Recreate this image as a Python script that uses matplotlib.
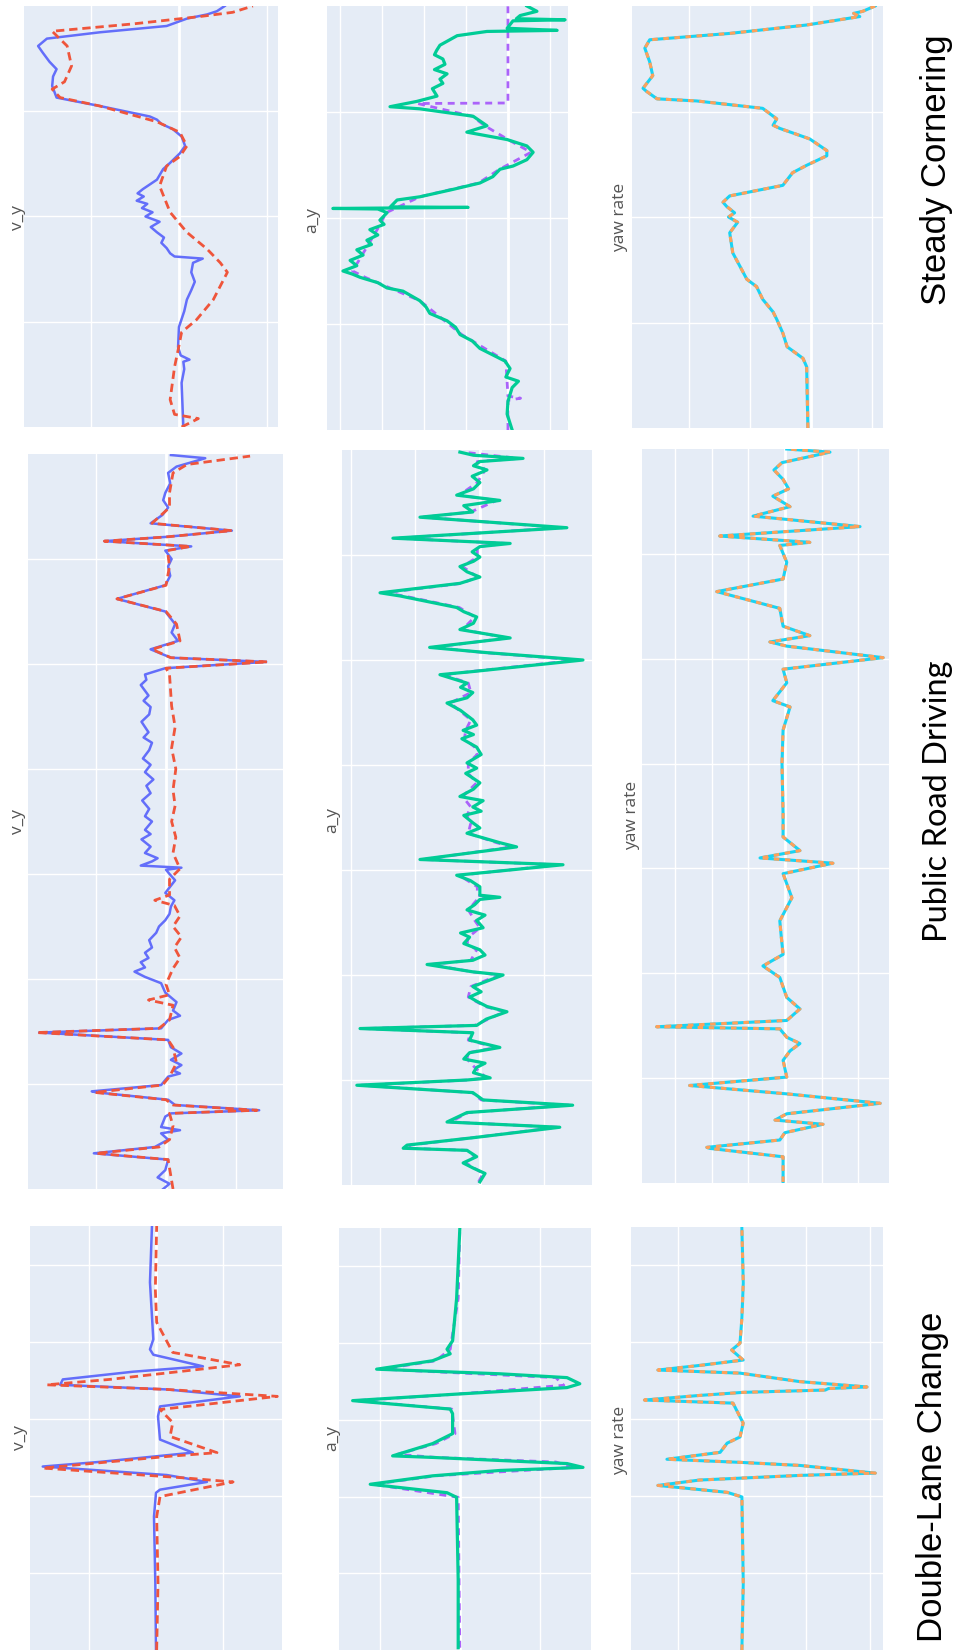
import numpy as np
import matplotlib.pyplot as plt

# ---- data: (time, value) pairs ----
# Steady Cornering
sc_vy_meas = [(0.0, -0.05), (0.42, -0.03), (0.55, -0.06), (0.62, -0.05), (0.64, -0.12), (0.68, -0.02), (0.76, 0.01),
              (0.95, 0.0), (1.1, -0.06), (1.21, -0.09), (1.3, -0.14), (1.38, -0.18), (1.47, -0.14), (1.56, -0.16),
              (1.6, -0.27), (1.62, 0.05), (1.65, 0.1), (1.7, 0.14), (1.75, 0.2), (1.8, 0.17), (1.85, 0.25),
              (1.9, 0.32), (1.95, 0.22), (2.0, 0.38), (2.04, 0.3), (2.08, 0.42), (2.12, 0.36), (2.15, 0.48),
              (2.19, 0.4), (2.22, 0.47), (2.26, 0.41), (2.35, 0.25), (2.45, 0.18), (2.51, 0.1), (2.6, -0.01),
              (2.67, -0.07), (2.76, -0.03), (2.83, 0.07), (2.88, 0.2), (2.92, 0.25), (2.95, 0.33), (3.05, 0.9),
              (3.11, 1.27), (3.13, 1.39), (3.24, 1.44), (3.33, 1.43), (3.4, 1.39), (3.47, 1.47), (3.56, 1.55),
              (3.62, 1.6), (3.69, 1.5), (3.75, 0.9), (3.81, 0.14), (3.88, -0.09), (3.92, -0.32), (3.95, -0.43),
              (4.0, -0.52)]
sc_vy_pred = [(0.0, -0.03), (0.08, -0.22), (0.12, 0.05), (0.26, 0.1), (0.57, 0.05), (0.73, 0.01), (0.9, -0.03),
              (1.02, -0.2), (1.21, -0.39), (1.47, -0.55), (1.56, -0.47), (1.69, -0.32), (1.85, -0.09), (2.04, 0.1),
              (2.29, 0.22), (2.48, 0.14), (2.57, -0.01), (2.67, -0.09), (2.8, -0.01), (2.9, 0.25), (3.05, 0.9),
              (3.13, 1.35), (3.21, 1.44), (3.28, 1.3), (3.43, 1.22), (3.62, 1.27), (3.76, 1.44), (3.83, 0.52),
              (3.9, -0.24), (3.94, -0.61), (4.0, -0.84)]
sc_ay_meas = [(0.0, -0.1), (0.15, 0.02), (0.27, 0.0), (0.4, -0.1), (0.46, -0.25), (0.5, 0.05), (0.58, -0.05),
              (0.65, 0.07), (0.77, 0.67), (0.84, 0.85), (0.9, 1.14), (0.97, 1.25), (1.03, 1.45), (1.1, 1.86),
              (1.16, 1.95), (1.22, 2.1), (1.31, 2.5), (1.34, 2.88), (1.39, 3.1), (1.44, 3.52), (1.47, 3.7),
              (1.5, 3.93), (1.55, 3.6), (1.6, 3.76), (1.65, 3.45), (1.7, 3.6), (1.75, 3.25), (1.79, 3.36),
              (1.84, 3.1), (1.89, 3.29), (1.94, 2.95), (1.98, 3.05), (2.05, 2.88), (2.085, 3.1), (2.09, 4.17),
              (2.1, 0.95), (2.105, 2.8), (2.17, 2.64), (2.2, 2.1), (2.27, 1.31), (2.33, 0.67), (2.39, 0.36),
              (2.46, 0.19), (2.49, -0.12), (2.55, -0.45), (2.62, -0.6), (2.68, -0.45), (2.74, 0.02), (2.81, 0.98),
              (2.87, 0.5), (2.96, 0.83), (3.03, 2.1), (3.05, 2.81), (3.1, 2.17), (3.15, 1.69), (3.22, 1.8),
              (3.27, 1.55), (3.31, 1.62), (3.36, 1.45), (3.4, 1.75), (3.45, 1.5), (3.5, 1.55), (3.54, 1.75),
              (3.58, 1.7), (3.63, 1.62), (3.72, 1.21), (3.76, 0.5), (3.77, -1.17), (3.79, 0.02), (3.86, -0.12),
              (3.87, -1.36), (3.88, -0.2), (3.91, -0.29), (3.95, -0.69), (4.0, -0.45)]
sc_ay_pred = [(0.0, 0.0), (0.28, 0.0), (0.3, -0.3), (0.32, 0.0), (0.65, 0.05), (0.9, 1.1), (1.22, 2.1),
              (1.44, 3.4), (1.5, 3.7), (1.7, 3.4), (1.9, 3.1), (2.05, 2.9), (2.2, 2.1), (2.33, 0.7), (2.46, 0.2),
              (2.62, -0.55), (2.74, 0.0), (2.87, 0.55), (2.96, 0.85), (3.08, 2.15), (3.085, 0.0), (4.02, 0.0)]
sc_yaw = [(0.0, 0.05), (0.58, 0.07), (0.66, 0.13), (0.77, 0.39), (0.9, 0.46), (1.03, 0.56), (1.1, 0.62),
          (1.22, 0.79), (1.34, 0.89), (1.41, 1.05), (1.53, 1.16), (1.66, 1.28), (1.85, 1.33), (1.95, 1.2),
          (2.0, 1.35), (2.04, 1.25), (2.1, 1.38), (2.14, 1.44), (2.2, 1.33), (2.3, 0.46), (2.42, 0.3),
          (2.49, 0.07), (2.58, -0.26), (2.63, -0.26), (2.74, 0.02), (2.84, 0.51), (2.87, 0.62), (2.93, 0.56),
          (3.03, 0.79), (3.1, 1.87), (3.12, 2.52), (3.19, 2.69), (3.22, 2.75), (3.34, 2.59), (3.47, 2.64),
          (3.6, 2.72), (3.68, 2.64), (3.74, 1.33), (3.82, 0.07), (3.9, -0.8), (3.93, -0.7), (3.95, -0.85),
          (4.0, -1.05)]

# Public Road Driving
prd_vy_meas = [(0.0, 0.04), (0.05, -0.05), (0.11, 0.12), (0.18, 0.01), (0.28, -0.03), (0.34, 1.03), (0.4, 0.16),
               (0.47, -0.03), (0.53, 0.07), (0.56, -0.2), (0.59, 0.07), (0.69, 0.01), (0.72, -0.07), (0.75, -1.33),
               (0.8, -0.13), (0.85, -0.03), (0.92, 0.99), (0.93, 1.06), (0.99, 0.07), (1.07, -0.03), (1.1, -0.2),
               (1.13, -0.1), (1.18, -0.22), (1.23, -0.07), (1.29, -0.22), (1.35, -0.07), (1.42, -0.03),
               (1.49, 1.81), (1.53, 0.07), (1.61, -0.03), (1.65, -0.2), (1.7, -0.1), (1.78, -0.15), (1.87, 0.01),
               (1.96, 0.07), (2.02, 0.3), (2.07, 0.45), (2.11, 0.3), (2.16, 0.36), (2.2, 0.25), (2.25, 0.3),
               (2.3, 0.2), (2.37, 0.24), (2.44, 0.14), (2.5, 0.1), (2.56, 0.01), (2.62, -0.05), (2.69, -0.07),
               (2.75, -0.12), (2.82, 0.01), (2.88, -0.06), (2.94, -0.13), (3.0, -0.05), (3.04, 0.0), (3.06, -0.22),
               (3.08, 0.36), (3.12, 0.2), (3.15, 0.12), (3.2, 0.3), (3.26, 0.22), (3.33, 0.35), (3.38, 0.22),
               (3.42, 0.3), (3.5, 0.2), (3.55, 0.3), (3.62, 0.24), (3.7, 0.34), (3.77, 0.22), (3.84, 0.28),
               (3.9, 0.18), (3.97, 0.3), (4.04, 0.22), (4.1, 0.33), (4.18, 0.24), (4.25, 0.2), (4.3, 0.32),
               (4.35, 0.25), (4.45, 0.35), (4.52, 0.24), (4.59, 0.22), (4.65, 0.32), (4.7, 0.25), (4.8, 0.36),
               (4.85, 0.28), (4.9, 0.3), (4.96, 0.01), (5.02, -1.43), (5.06, -0.07), (5.14, 0.22), (5.22, -0.17),
               (5.3, -0.08), (5.38, -0.13), (5.5, 0.01), (5.62, 0.7), (5.75, 0.01), (5.84, -0.06), (5.93, -0.03),
               (6.0, -0.08), (6.08, 0.01), (6.12, -0.36), (6.17, 0.88), (6.21, 0.01), (6.27, -0.94), (6.34, 0.22),
               (6.42, 0.05), (6.49, -0.03), (6.56, 0.04), (6.63, 0.01), (6.72, -0.06), (6.82, -0.03),
               (6.88, -0.15), (6.94, -0.46), (6.96, -0.56), (6.99, -0.07)]
prd_vy_pred = [(0.0, -0.1), (0.2, -0.05), (0.28, -0.03), (0.34, 1.0), (0.4, 0.1), (0.47, -0.05), (0.6, -0.1),
               (0.72, -0.05), (0.75, -1.3), (0.8, -0.1), (0.85, 0.0), (0.92, 1.02), (0.99, 0.05), (1.07, -0.05),
               (1.2, -0.15), (1.35, -0.1), (1.42, -0.03), (1.49, 1.85), (1.53, 0.1), (1.61, -0.05), (1.75, -0.1),
               (1.8, 0.25), (1.85, -0.05), (1.95, 0.0), (2.1, -0.1), (2.2, -0.2), (2.3, -0.12), (2.4, -0.22),
               (2.5, -0.1), (2.6, -0.2), (2.7, -0.12), (2.75, 0.16), (2.8, -0.05), (2.95, -0.05), (3.05, -0.2),
               (3.2, -0.1), (3.35, -0.14), (3.5, -0.08), (3.65, -0.13), (3.8, -0.1), (4.0, -0.14), (4.2, -0.08),
               (4.4, -0.13), (4.6, -0.08), (4.9, -0.05), (4.96, 0.0), (5.02, -1.45), (5.06, -0.07), (5.14, 0.2),
               (5.22, -0.2), (5.38, -0.15), (5.5, 0.0), (5.62, 0.7), (5.75, 0.0), (5.93, -0.05), (6.08, -0.02),
               (6.12, -0.35), (6.17, 0.88), (6.21, 0.0), (6.27, -0.94), (6.34, 0.2), (6.49, -0.05), (6.63, -0.05),
               (6.82, -0.1), (6.9, -0.3), (6.98, -1.2)]
prd_ay_meas = [(0.03, 0.0), (0.11, -0.08), (0.16, 0.1), (0.21, 0.26), (0.27, 0.05), (0.33, 0.2), (0.35, 1.19),
               (0.38, 1.13), (0.45, 0.11), (0.55, -1.24), (0.6, 0.51), (0.69, 0.2), (0.76, -1.44), (0.81, -0.05),
               (0.88, 0.11), (0.95, 1.91), (1.0, 0.2), (1.02, -0.16), (1.07, 0.1), (1.12, 0.05), (1.16, -0.08),
               (1.2, 0.25), (1.26, 0.16), (1.31, -0.31), (1.38, 0.16), (1.45, 0.11), (1.49, 1.86), (1.52, 0.05),
               (1.58, -0.1), (1.65, -0.42), (1.7, -0.11), (1.75, 0.05), (1.79, 0.16), (1.84, -0.02), (1.89, 0.11),
               (2.0, -0.36), (2.03, 0.11), (2.1, 0.82), (2.14, 0.11), (2.19, -0.08), (2.24, 0.0), (2.3, 0.25),
               (2.36, 0.16), (2.4, 0.3), (2.45, -0.05), (2.52, 0.05), (2.57, -0.08), (2.62, 0.2), (2.67, 0.08),
               (2.72, 0.0), (2.74, -0.31), (2.76, 0.0), (2.84, 0.0), (2.9, 0.15), (2.95, 0.36), (3.05, -1.29),
               (3.1, 0.93), (3.22, -0.57), (3.26, -0.31), (3.35, 0.2), (3.4, 0.0), (3.45, 0.11), (3.52, 0.25),
               (3.56, -0.02), (3.6, 0.11), (3.66, -0.05), (3.7, 0.31), (3.77, 0.1), (3.83, 0.0), (3.88, 0.12),
               (3.92, 0.22), (3.97, 0.05), (4.02, 0.2), (4.1, -0.02), (4.17, 0.05), (4.25, 0.28), (4.29, 0.1),
               (4.33, 0.26), (4.38, 0.05), (4.43, 0.11), (4.52, 0.3), (4.59, 0.51), (4.64, 0.2), (4.69, 0.11),
               (4.74, 0.3), (4.78, 0.2), (4.86, 0.62), (4.89, 0.11), (5.0, -1.6), (5.07, -0.11), (5.12, 0.78),
               (5.21, -0.47), (5.29, 0.31), (5.35, 0.1), (5.41, 0.05), (5.46, 0.25), (5.5, 0.36), (5.61, 1.24),
               (5.64, 1.55), (5.73, 0.31), (5.79, 0.0), (5.84, 0.2), (5.89, 0.31), (5.94, 0.1), (5.98, 0.0),
               (6.03, 0.12), (6.08, 0.0), (6.11, -0.47), (6.16, 1.35), (6.26, -1.35), (6.36, 0.93), (6.41, 0.11),
               (6.47, 0.25), (6.52, -0.31), (6.57, 0.36), (6.63, 0.1), (6.69, 0.0), (6.75, 0.12), (6.81, -0.11),
               (6.85, 0.1), (6.89, 0.0), (6.92, -0.67), (6.95, 0.1), (6.98, 0.31)]
prd_ay_pred = [(0.03, 0.02), (0.11, -0.05), (0.21, 0.22), (0.27, 0.08), (0.33, 0.18), (0.35, 1.12), (0.38, 1.08),
               (0.45, 0.12), (0.55, -1.2), (0.6, 0.46), (0.69, 0.18), (0.76, -1.38), (0.81, -0.02), (0.88, 0.12),
               (0.95, 1.84), (1.0, 0.18), (1.02, -0.1), (1.12, 0.08), (1.2, 0.2), (1.26, 0.18), (1.31, -0.25),
               (1.38, 0.18), (1.45, 0.14), (1.49, 1.8), (1.52, 0.08), (1.65, -0.38), (1.7, -0.08), (1.79, 0.18),
               (1.89, 0.14), (2.0, -0.3), (2.03, 0.12), (2.1, 0.76), (2.14, 0.14), (2.24, 0.05), (2.3, 0.2),
               (2.36, 0.18), (2.45, 0.0), (2.52, 0.08), (2.62, 0.18), (2.72, 0.04), (2.74, -0.25), (2.76, 0.04),
               (2.84, 0.04), (2.95, 0.32), (3.05, -1.22), (3.1, 0.88), (3.22, -0.5), (3.26, -0.26), (3.35, 0.18),
               (3.45, 0.14), (3.52, 0.2), (3.6, 0.14), (3.7, 0.27), (3.83, 0.05), (3.92, 0.18), (4.02, 0.18),
               (4.1, 0.04), (4.17, 0.08), (4.25, 0.24), (4.33, 0.22), (4.43, 0.14), (4.59, 0.46), (4.69, 0.14),
               (4.78, 0.18), (4.86, 0.56), (4.89, 0.14), (5.0, -1.52), (5.07, -0.08), (5.12, 0.72), (5.21, -0.42),
               (5.29, 0.27), (5.41, 0.08), (5.5, 0.32), (5.61, 1.18), (5.64, 1.48), (5.73, 0.28), (5.79, 0.04),
               (5.89, 0.27), (5.98, 0.04), (6.08, 0.04), (6.11, -0.42), (6.16, 1.28), (6.26, -1.28), (6.36, 0.88),
               (6.41, 0.14), (6.52, -0.26), (6.57, 0.32), (6.69, 0.04), (6.81, -0.08), (6.89, 0.04), (6.92, -0.6),
               (6.98, 0.26)]
prd_yaw = [(0.01, 0.05), (0.25, 0.05), (0.33, 2.05), (0.34, 2.13), (0.41, 0.14), (0.48, 0.0), (0.56, -1.04),
           (0.6, 0.27), (0.66, -0.05), (0.76, -2.6), (0.85, -0.05), (0.93, 2.6), (1.01, -0.05), (1.17, 0.05),
           (1.26, -0.14), (1.33, -0.41), (1.39, -0.05), (1.47, 0.14), (1.49, 3.5), (1.55, -0.05), (1.66, -0.41),
           (1.77, -0.05), (1.96, 0.14), (2.07, 0.6), (2.18, 0.05), (2.35, 0.1), (2.5, 0.14), (2.72, -0.19),
           (2.95, 0.05), (3.05, -1.31), (3.1, 0.68), (3.17, -0.41), (3.3, 0.05), (3.52, 0.05), (4.0, 0.08),
           (4.32, 0.05), (4.54, -0.14), (4.6, 0.33), (4.77, -0.05), (4.9, 0.05), (5.01, -2.68), (5.12, -0.05),
           (5.16, 0.41), (5.22, -0.68), (5.31, 0.05), (5.48, 0.14), (5.64, 1.86), (5.76, 0.05), (5.92, -0.05),
           (6.08, 0.14), (6.11, -0.68), (6.17, 1.78), (6.26, -2.05), (6.36, 0.87), (6.45, -0.14), (6.55, 0.33),
           (6.62, -0.1), (6.71, 0.05), (6.8, 0.3), (6.87, 0.08), (6.97, -1.23), (7.0, -0.05)]

# Double-Lane Change
dlc_vy_meas = [(0.0, 0.0), (0.87, 0.01), (1.73, 0.03), (2.04, 0.0), (2.08, -0.06), (2.18, -0.76), (2.27, -0.16),
               (2.38, 1.69), (2.44, 0.84), (2.56, -0.55), (2.73, -0.06), (3.03, -0.03), (3.16, -0.06),
               (3.29, -1.25), (3.38, -0.16), (3.44, 1.43), (3.51, 1.39), (3.61, 0.34), (3.68, -0.7), (3.83, 0.04),
               (3.9, 0.09), (4.03, 0.04), (4.77, 0.09), (5.5, 0.06)]
dlc_vy_pred = [(0.0, -0.01), (0.87, -0.03), (1.73, -0.01), (1.99, -0.06), (2.18, -1.15), (2.23, -0.46),
               (2.36, 1.69), (2.51, -0.16), (2.56, -0.91), (2.77, -0.21), (2.95, -0.25), (3.12, -0.06),
               (3.29, -1.81), (3.38, -0.16), (3.44, 1.63), (3.51, 0.69), (3.7, -1.25), (3.86, -0.25),
               (4.25, -0.01), (4.68, 0.01), (5.5, -0.01)]
dlc_ay_meas = [(0.03, 0.02), (0.91, 0.02), (1.99, 0.04), (2.05, 0.16), (2.16, 1.12), (2.27, 0.34), (2.34, -0.5),
               (2.38, -1.54), (2.43, -1.34), (2.47, -0.5), (2.51, 0.34), (2.53, 0.84), (2.69, 0.34), (2.82, 0.09),
               (3.08, 0.09), (3.14, 0.12), (3.25, 1.34), (3.33, 0.12), (3.42, -1.34), (3.47, -1.5), (3.55, -1.34),
               (3.6, -0.5), (3.66, 1.04), (3.77, 0.34), (3.86, 0.12), (3.92, 0.16), (4.03, 0.09), (4.58, 0.04),
               (5.48, 0.0)]
dlc_ay_pred = [(0.03, 0.0), (1.99, 0.02), (2.16, 1.08), (2.27, 0.3), (2.38, -1.42), (2.45, -1.2), (2.51, 0.3),
               (2.55, 0.78), (2.69, 0.3), (2.82, 0.06), (3.14, 0.1), (3.25, 1.3), (3.33, 0.1), (3.45, -1.3),
               (3.55, -1.2), (3.66, 0.98), (3.77, 0.3), (3.92, 0.12), (4.58, 0.02), (5.48, 0.0)]
dlc_yaw = [(0.0, 0.0), (0.87, -0.02), (1.99, 0.0), (2.05, 0.23), (2.14, 1.31), (2.21, 0.66), (2.27, -0.9),
           (2.3, -2.08), (2.4, -0.9), (2.44, 0.03), (2.48, 1.17), (2.57, 0.34), (2.69, 0.23), (2.77, 0.03),
           (2.95, -0.02), (3.08, 0.06), (3.21, 0.14), (3.25, 1.52), (3.31, 0.66), (3.35, -0.02), (3.38, -1.3),
           (3.4, -1.35), (3.42, -1.95), (3.49, -0.9), (3.6, 0.03), (3.64, 1.31), (3.7, 0.66), (3.77, -0.02),
           (3.9, 0.16), (3.99, 0.03), (4.32, 0.0), (4.77, -0.02), (5.48, 0.0)]

scenarios = ['Steady Cornering', 'Public Road Driving', 'Double-Lane Change']
signals = ['v_y', 'a_y', 'yaw rate']

# ---- style ----
plt.rcParams['lines.scale_dashes'] = False
BG = '#E5ECF6'
BLUE, RED = '#636EFA', '#EF553B'
GREEN, PURPLE = '#00CC96', '#AB63FA'
CYAN, ORANGE = '#19D3F3', '#FFA15A'

W, H = 954, 1652
fig = plt.figure(figsize=(W / 100, H / 100), dpi=100)


def add_panel(x0, x1, top, bottom, xlim, tmax):
    ax = fig.add_axes([x0 / W, 1 - bottom / H, (x1 - x0) / W, (bottom - top) / H])
    ax.set_facecolor(BG)
    ax.set_xlim(*xlim)
    ax.set_ylim(0, tmax)
    ax.set_xticks(np.arange(np.ceil(min(xlim)), np.floor(max(xlim)) + 1))
    ax.set_yticks(np.arange(1, np.ceil(tmax)))
    ax.grid(True, color='white', lw=1.0)
    ax.axvline(0, color='white', lw=2.0, zorder=1)
    ax.set_axisbelow(True)
    ax.tick_params(length=0, labelleft=False, labelbottom=False)
    for s in ax.spines.values():
        s.set_visible(False)
    return ax


def draw(ax, data, color, lw, dashes=None, z=2):
    t, v = zip(*data)
    if dashes:
        ax.plot(v, t, color=color, lw=lw, linestyle=(0, dashes), zorder=z)
    else:
        ax.plot(v, t, color=color, lw=lw, zorder=z, solid_joinstyle='round')


def vy_panel(ax, meas, pred):
    draw(ax, meas, BLUE, 1.8)
    draw(ax, pred, RED, 2.0, (6, 3.5), 3)


def ay_panel(ax, meas, pred):
    draw(ax, pred, PURPLE, 2.0, (5, 4))
    draw(ax, meas, GREEN, 2.3, z=3)


def yaw_panel(ax, yaw):
    draw(ax, yaw, CYAN, 2.2)
    draw(ax, yaw, ORANGE, 2.2, (4, 4), 3)


# Steady Cornering row (top)
vy_panel(add_panel(24, 278, 6, 427, (1.76, -1.125), 4), sc_vy_meas, sc_vy_pred)
ay_panel(add_panel(327, 568, 6, 430, (4.31, -1.43), 4), sc_ay_meas, sc_ay_pred)
yaw_panel(add_panel(632, 883, 6, 428, (2.93, -1.18), 4), sc_yaw)

# Public Road Driving
vy_panel(add_panel(28, 283, 454, 1189, (1.97, -1.67), 7), prd_vy_meas, prd_vy_pred)
ay_panel(add_panel(342, 592, 450, 1185, (2.14, -1.74), 7), prd_ay_meas, prd_ay_pred)
yaw_panel(add_panel(642, 889, 449, 1183, (3.9, -2.84), 7), prd_yaw)

# Double-Lane Change
vy_panel(add_panel(30, 282, 1226, 1650, (1.88, -1.88), 5.5), dlc_vy_meas, dlc_vy_pred)
ay_panel(add_panel(339, 591, 1228, 1650, (1.51, -1.64), 5.5), dlc_ay_meas, dlc_ay_pred)
yaw_panel(add_panel(631, 883, 1227, 1650, (1.73, -2.2), 5.5), dlc_yaw)

# subplot titles (rotated)
label_pos = [
    [(18, 217), (312, 220), (620, 217)],
    [(18, 822), (332, 820), (632, 815)],
    [(20, 1437), (332, 1438), (620, 1440)],
]
for row in label_pos:
    for (x, y), name in zip(row, signals):
        fig.text(x / W, 1 - y / H, name, rotation=90, ha='center', va='center',
                 fontsize=12.5, color='#555555', family='Open Sans')

# scenario titles
fig.text(937 / W, 1 - 170 / H, scenarios[0], rotation=90, ha='center', va='center',
         fontsize=25, family='Liberation Sans', color='black')
fig.text(938 / W, 1 - 801 / H, scenarios[1], rotation=90, ha='center', va='center',
         fontsize=23.5, family='Lato', color='black')
fig.text(933 / W, 1 - 1477 / H, scenarios[2], rotation=90, ha='center', va='center',
         fontsize=25, family='Liberation Sans', color='black')

fig.savefig('out.png', dpi=100, facecolor='white')
